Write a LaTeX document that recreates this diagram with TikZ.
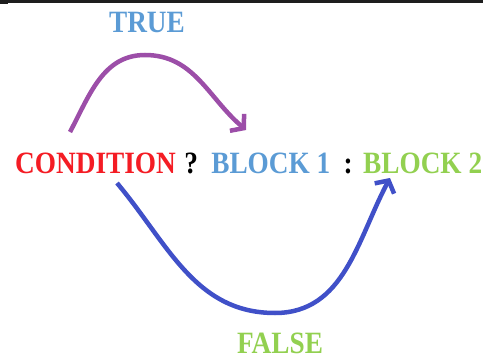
\documentclass[tikz,border=0pt]{standalone}
\usepackage{fontspec}
\usepackage{tikz}
\usetikzlibrary{arrows.meta,positioning}
\newfontfamily\stencilfont[FakeStretch=0.88]{Liberation Serif}
\definecolor{CondRed}{HTML}{F41C24}
\definecolor{BlockBlue}{HTML}{5B9BD5}
\definecolor{BlockGreen}{HTML}{92D050}
\definecolor{TruePurple}{HTML}{9C4EA8}
\definecolor{FalseBlue}{HTML}{4050C8}
\definecolor{BarGray}{HTML}{1E1E1E}

\begin{document}
\begin{tikzpicture}[
	x=1pt, y=1pt,
	word/.style={inner sep=0pt, text depth=0pt, font=\stencilfont\bfseries\fontsize{31}{31}\selectfont},
	arrow/.style={-{Straight Barb[length=9pt,width=22pt]}, line width=4.5pt}
]
\useasboundingbox (0,0) rectangle (483,360);
\fill[BarGray] (0,357) rectangle (483,360);
\fill[BarGray] (0,356) rectangle (8,360);

\node[word, anchor=base west, text=CondRed] (cond) at (15,187) {CONDITION};
\node[word, base right=8pt of cond] (ask) {?};
\node[word, base right=13pt of ask, text=BlockBlue] (block1) {BLOCK 1};
\node[word, base right=13pt of block1] (colon) {:};
\node[word, base right=10pt of colon, text=BlockGreen] (block2) {BLOCK 2};
\node[word, anchor=base, text=BlockBlue] (truelabel) at (147,327) {TRUE};
\node[word, anchor=base, text=BlockGreen] (falselabel) at (280,7) {FALSE};

\coordinate (truetop) at (145,305);
\coordinate (falsebottom) at (275,47);

\draw[arrow, TruePurple] ([shift={(55,41)}]cond.base west) to[out=62,in=180] (truetop)
	to[out=0,in=140] ([shift={(35,43)}]block1.base west);
\draw[arrow, FalseBlue] ([shift={(102,-10)}]cond.base west) to[out=-50,in=180] (falsebottom)
	to[out=0,in=-118] ([shift={(27,-5)}]block2.base west);
\end{tikzpicture}
\end{document}
